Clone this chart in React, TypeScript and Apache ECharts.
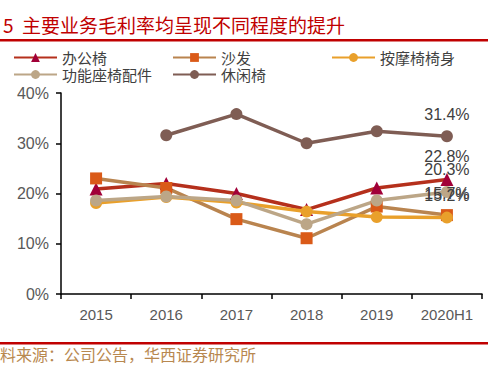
import React, { useEffect, useRef } from "react";
import * as echarts from "echarts";

const categories = ["2015", "2016", "2017", "2018", "2019", "2020H1"];
const yTicks = [0, 10, 20, 30, 40];
const officeChair = [20.9, 22.0, 20.0, 16.8, 21.1, 22.8];
const sofa = [23.0, 21.1, 14.9, 11.1, 17.4, 15.7];
const massageChair = [18.1, 19.3, 18.2, 16.4, 15.3, 15.2];
const functionalParts = [18.6, 19.4, 18.6, 13.9, 18.6, 20.3];
const leisureChair: (number | null)[] = [null, 31.6, 35.8, 30.0, 32.4, 31.4];

const seriesDefs = [
  { name: "办公椅", data: officeChair, line: "#B5301C", mark: "#A10038", symbol: "triangle", size: 13 },
  { name: "沙发", data: sofa, line: "#B9844F", mark: "#DA5A18", symbol: "rect", size: 12 },
  { name: "按摩椅椅身", data: massageChair, line: "#E9A02B", mark: "#E9A02B", symbol: "circle", size: 12 },
  { name: "功能座椅配件", data: functionalParts, line: "#BCA687", mark: "#BCA687", symbol: "circle", size: 12 },
  { name: "休闲椅", data: leisureChair, line: "#7F5D54", mark: "#7F5D54", symbol: "circle", size: 12 },
];

const legendPos = [
  { left: 13, top: 50 },
  { left: 172, top: 50 },
  { left: 331, top: 50 },
  { left: 13, top: 67 },
  { left: 172, top: 67 },
];

export default function App() {
  const ref = useRef<HTMLDivElement>(null);
  useEffect(() => {
    const chart = echarts.init(ref.current!, undefined, { renderer: "svg" });
    const numFont = "'Liberation Sans', Arial, sans-serif";
    const cjkFont = "'Noto Sans CJK SC', sans-serif";
    chart.setOption({
      animation: false,
      backgroundColor: "#fff",
      grid: { left: 61, right: 6, top: 93, bottom: 74, containLabel: false },
      legend: seriesDefs.map((s, i) => ({
        data: [s.name],
        left: legendPos[i].left,
        top: legendPos[i].top,
        itemWidth: 43,
        itemHeight: 11,
        itemGap: 0,
        padding: 0,
        textStyle: { fontFamily: cjkFont, fontSize: 15, lineHeight: 15, color: "#404040", padding: [0, 0, 0, 0] },
      })),
      xAxis: {
        type: "category",
        data: categories,
        boundaryGap: true,
        axisLine: { lineStyle: { color: "#000", width: 1.5 } },
        axisTick: { show: true, length: 5, lineStyle: { color: "#000", width: 1.5 } },
        axisLabel: { fontFamily: numFont, fontSize: 15, color: "#595959", margin: 13 },
      },
      yAxis: {
        type: "value",
        min: 0,
        max: 40,
        interval: 10,
        splitLine: { show: false },
        axisLine: { show: true, lineStyle: { color: "#000", width: 1.5 } },
        axisTick: { show: true, inside: false, length: 5, lineStyle: { color: "#000", width: 1.5 } },
        axisLabel: {
          fontFamily: numFont,
          fontSize: 16,
          color: "#595959",
          margin: 12,
          formatter: (v: number) => (yTicks.includes(v) ? v + "%" : ""),
        },
      },
      series: seriesDefs.map((s) => ({
        name: s.name,
        type: "line",
        data: s.data.map((v, i) =>
          i === s.data.length - 1
            ? {
                value: v,
                label: {
                  show: true,
                  position: "top",
                  distance: 8,
                  formatter: (p: any) => Number(p.value).toFixed(1) + "%",
                  fontFamily: numFont,
                  fontSize: 16,
                  color: "#404040",
                },
              }
            : v
        ),
        symbol: s.symbol,
        symbolSize: s.size,
        showAllSymbol: true,
        connectNulls: false,
        lineStyle: { color: s.line, width: 3.5 },
        itemStyle: { color: s.mark, borderWidth: 0 },
        z: 2,
      })),
      graphic: [
        {
          type: "text",
          left: 3,
          top: 15,
          style: { text: "5  主要业务毛利率均呈现不同程度的提升", fontFamily: cjkFont, fontSize: 19, fontWeight: "normal", fill: "#C00000" },
        },
        { type: "rect", shape: { x: 0, y: 39, width: 488, height: 2.5 }, style: { fill: "#C00000" } },
        { type: "rect", shape: { x: 0, y: 342, width: 488, height: 2.5 }, style: { fill: "#C00000" } },
        {
          type: "text",
          left: 0,
          top: 346,
          style: { text: "料来源：公司公告，华西证券研究所", fontFamily: cjkFont, fontSize: 16, fill: "#B8884F" },
        },
      ],
    });
    return () => chart.dispose();
  }, []);
  return (
    <div
      ref={ref}
      style={{ position: "absolute", left: 0, top: 0, width: 488, height: 368 }}
    />
  );
}
